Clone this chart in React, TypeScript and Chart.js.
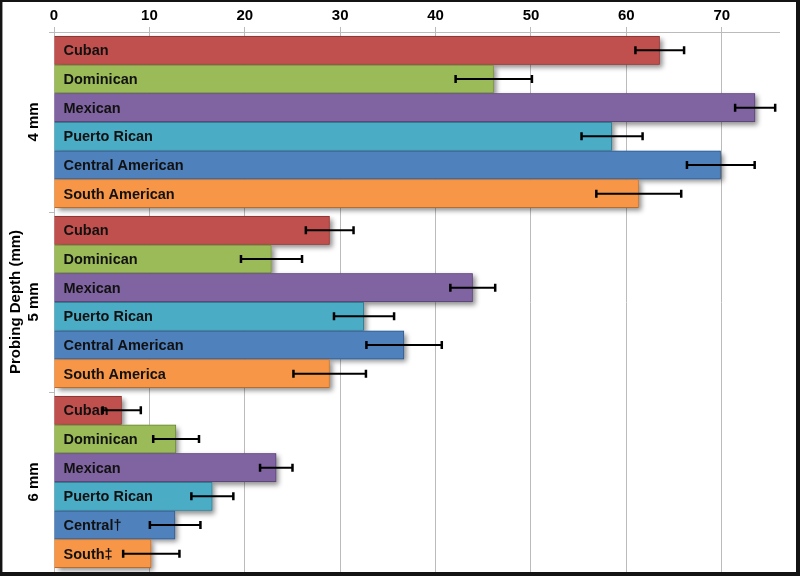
import { useEffect, useRef } from 'react';
import { Chart, registerables } from 'chart.js';

Chart.register(...registerables);

const groups = ['4 mm', '5 mm', '6 mm'];
const seriesNames = ['Cuban', 'Dominican', 'Mexican', 'Puerto Rican', 'Central American', 'South American'];
const labels4mm = ['Cuban', 'Dominican', 'Mexican', 'Puerto Rican', 'Central American', 'South American'];
const labels5mm = ['Cuban', 'Dominican', 'Mexican', 'Puerto Rican', 'Central American', 'South America'];
const labels6mm = ['Cuban', 'Dominican', 'Mexican', 'Puerto Rican', 'Central\u2020', 'South\u2021'];

const cuban = [63.5, 28.9, 7.1];
const dominican = [46.1, 22.8, 12.8];
const mexican = [73.5, 43.9, 23.3];
const puertoRican = [58.5, 32.5, 16.6];
const centralAmerican = [69.9, 36.7, 12.7];
const southAmerican = [61.3, 28.9, 10.2];

const cubanErr = [2.55, 2.5, 2.0];
const dominicanErr = [4.0, 3.2, 2.4];
const mexicanErr = [2.1, 2.35, 1.7];
const puertoRicanErr = [3.2, 3.15, 2.2];
const centralAmericanErr = [3.55, 3.95, 2.65];
const southAmericanErr = [4.45, 3.8, 2.95];

const fills = ['#C0504D', '#9BBB59', '#8064A2', '#4BACC6', '#4F81BD', '#F79646'];
const borders = ['#8C3836', '#71893F', '#5C4776', '#357D91', '#385D8A', '#B66D31'];

const yTitle = 'Probing Depth (mm)';
const FONT = 'Arial, "Liberation Sans", sans-serif';

export default function App() {
  const ref = useRef<HTMLCanvasElement | null>(null);

  useEffect(() => {
    document.body.style.margin = '0';
    const values = [cuban, dominican, mexican, puertoRican, centralAmerican, southAmerican];
    const errors = [cubanErr, dominicanErr, mexicanErr, puertoRicanErr, centralAmericanErr, southAmericanErr];
    const groupBarLabels = [labels4mm, labels5mm, labels6mm];

    const decor = {
      id: 'decor',
      beforeDatasetsDraw(chart: any) {
        const ctx = chart.ctx;
        ctx.save();
        ctx.shadowColor = 'rgba(0,0,0,0.45)';
        ctx.shadowBlur = 5;
        ctx.shadowOffsetX = 3;
        ctx.shadowOffsetY = 3;
        chart.data.datasets.forEach((ds: any, i: number) => {
          chart.getDatasetMeta(i).data.forEach((bar: any) => {
            ctx.fillStyle = ds.backgroundColor;
            ctx.fillRect(Math.min(bar.base, bar.x), bar.y - bar.height / 2, Math.abs(bar.x - bar.base), bar.height);
          });
        });
        ctx.restore();
      },
      afterDatasetsDraw(chart: any) {
        const ctx = chart.ctx;
        const xs = chart.scales.x;
        ctx.save();
        ctx.font = `bold 14.5px ${FONT}`;
        ctx.fillStyle = '#111111';
        ctx.textAlign = 'left';
        ctx.textBaseline = 'middle';
        chart.data.datasets.forEach((ds: any, i: number) => {
          chart.getDatasetMeta(i).data.forEach((bar: any, g: number) => {
            ctx.fillText(groupBarLabels[g][i], bar.base + 9, bar.y + 1);
          });
        });
        ctx.strokeStyle = '#000';
        chart.data.datasets.forEach((ds: any, i: number) => {
          chart.getDatasetMeta(i).data.forEach((bar: any, g: number) => {
            const v = values[i][g];
            const e = errors[i][g];
            const x1 = xs.getPixelForValue(v - e);
            const x2 = xs.getPixelForValue(v + e);
            const y = bar.y;
            ctx.lineWidth = 2;
            ctx.beginPath();
            ctx.moveTo(x1, y);
            ctx.lineTo(x2, y);
            ctx.stroke();
            ctx.lineWidth = 2.5;
            ctx.beginPath();
            ctx.moveTo(x1, y - 4);
            ctx.lineTo(x1, y + 4);
            ctx.moveTo(x2, y - 4);
            ctx.lineTo(x2, y + 4);
            ctx.stroke();
          });
        });
        ctx.restore();
      },
      afterDraw(chart: any) {
        const ctx = chart.ctx;
        const ys = chart.scales.y;
        const area = chart.chartArea;
        ctx.save();
        ctx.fillStyle = '#000';
        ctx.font = `bold 15px ${FONT}`;
        ctx.textAlign = 'center';
        ctx.textBaseline = 'middle';
        ctx.save();
        ctx.translate(16, (area.top + area.bottom) / 2);
        ctx.rotate(-Math.PI / 2);
        ctx.fillText(yTitle, 0, 0);
        ctx.restore();
        groups.forEach((gname, g) => {
          ctx.save();
          ctx.translate(34, ys.getPixelForValue(g));
          ctx.rotate(-Math.PI / 2);
          ctx.fillText(gname, 0, 0);
          ctx.restore();
        });
        ctx.fillStyle = '#141414';
        ctx.fillRect(0, 0, 800, 2);
        ctx.fillRect(0, 0, 2, 576);
        ctx.fillRect(796, 0, 4, 576);
        ctx.fillRect(0, 572, 800, 4);
        ctx.fillStyle = '#9a9a9a';
        ctx.fillRect(2, 2, 1, 570);
        ctx.restore();
      },
    };

    const chart = new Chart(ref.current as HTMLCanvasElement, {
      type: 'bar',
      data: {
        labels: groups,
        datasets: seriesNames.map((name, i) => ({
          label: name,
          data: values[i],
          backgroundColor: fills[i],
          borderColor: borders[i],
          borderWidth: 1,
          categoryPercentage: 0.956,
          barPercentage: 1,
        })),
      },
      options: {
        indexAxis: 'y',
        responsive: false,
        animation: false,
        devicePixelRatio: 1,
        layout: { padding: { left: 0, right: 21, top: 0, bottom: 4 } },
        plugins: {
          legend: { display: false },
          tooltip: { enabled: false },
          title: { display: false },
        },
        scales: {
          x: {
            type: 'linear',
            position: 'top',
            min: 0,
            max: 76,
            ticks: {
              stepSize: 10,
              includeBounds: false,
              color: '#000',
              font: { family: FONT, size: 15, weight: 'bold' },
              padding: 2,
            },
            grid: { color: '#bbbbbb', tickLength: 5, lineWidth: 1 },
            border: { color: '#bbbbbb' },
            afterFit: (s: any) => { s.height = 32; },
          },
          y: {
            type: 'category',
            position: 'left',
            ticks: { display: false },
            grid: { drawOnChartArea: false, color: '#bbbbbb', tickLength: 5, offset: true },
            border: { color: '#bbbbbb' },
            afterFit: (s: any) => { s.width = 54; },
          },
        },
      } as any,
      plugins: [decor],
    });
    return () => chart.destroy();
  }, []);

  return (
    <div style={{ position: 'absolute', left: 0, top: 0, width: 800, height: 576, background: '#fff' }}>
      <canvas ref={ref} width={800} height={576} style={{ display: 'block', width: 800, height: 576 }} />
    </div>
  );
}
